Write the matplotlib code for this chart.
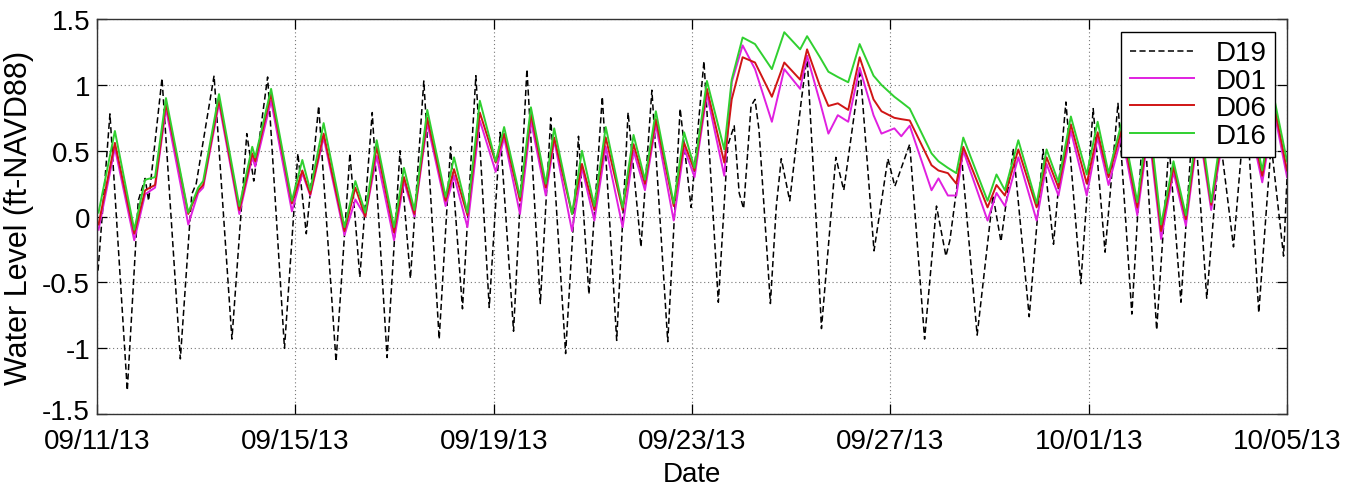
import matplotlib
matplotlib.use("Agg")
import matplotlib.pyplot as plt
from matplotlib.ticker import FixedLocator
from matplotlib.transforms import ScaledTranslation

plt.rcParams['font.family'] = ['Liberation Sans', 'DejaVu Sans']

# Time axis: days after 09/11/13 00:00
tick_days = [0, 4, 8, 12, 16, 20, 24]
tick_labels = ['09/11/13', '09/15/13', '09/19/13', '09/23/13',
               '09/27/13', '10/01/13', '10/05/13']
y_ticks = [-1.5, -1, -0.5, 0, 0.5, 1, 1.5]
y_tick_labels = ['-1.5', '-1', '-0.5', '0', '0.5', '1', '1.5']

# D19 water level (ft-NAVD88), turning points of the tide record
d19_days = [0.02, 0.26, 0.61, 0.83, 0.97, 1.04, 1.31, 1.68, 1.91, 2.00, 2.36,
            2.72, 3.02, 3.16, 3.44, 3.78, 4.05, 4.22, 4.47, 4.82, 5.10, 5.30,
            5.55, 5.85, 6.11, 6.32, 6.59, 6.90, 7.13, 7.37, 7.64, 7.91, 8.13,
            8.40, 8.67, 8.94, 9.15, 9.45, 9.71, 9.92, 10.19, 10.48, 10.71,
            10.97, 11.19, 11.51, 11.76, 11.98, 12.24, 12.53, 12.72, 12.85,
            12.95, 13.04, 13.19, 13.27, 13.35, 13.58, 13.70, 13.80, 13.97,
            14.20, 14.32, 14.51, 14.61, 14.90, 15.06, 15.35, 15.39, 15.67,
            15.95, 16.09, 16.39, 16.69, 16.93, 17.12, 17.20, 17.43, 17.75,
            18.07, 18.23, 18.48, 18.80, 19.08, 19.29, 19.54, 19.84, 20.09,
            20.33, 20.59, 20.87, 21.11, 21.37, 21.62, 21.86, 22.12, 22.38,
            22.65, 22.92, 23.17, 23.43, 23.68, 23.93, 24.00]
d19_level = [-0.41, 0.78, -1.32, 0.12, 0.29, 0.12, 1.05, -1.08, 0.17, 0.25, 1.07,
             -0.93, 0.63, 0.27, 1.06, -1.00, 0.48, -0.13, 0.84, -1.10, 0.48, -0.46,
             0.79, -1.07, 0.50, -0.47, 1.03, -0.93, 0.53, -0.70, 1.07, -0.69, 0.64,
             -0.87, 1.12, -0.66, 0.75, -1.04, 0.61, -0.59, 0.91, -0.94, 0.79,
             -0.23, 0.96, -0.95, 0.82, 0.07, 1.18, -0.65, 0.54, 0.69,
             0.18, 0.06, 0.84, 0.89, 0.66, -0.66, 0.08, 0.44, 0.12,
             0.87, 1.22, -0.08, -0.85, 0.45, 0.20, 0.99, 1.12, -0.26,
             0.44, 0.23, 0.55, -0.93, 0.08, -0.30, -0.18, 0.48, -0.90,
             0.16, -0.19, 0.51, -0.76, 0.51, -0.21, 0.87, -0.51, 0.82,
             -0.27, 0.86, -0.74, 0.80, -0.86, 0.55, -0.65, 0.85, -0.62,
             0.60, -0.23, 0.90, -0.73, 0.55, -0.30, 0.30]

# Interior stations D01, D06, D16
st_days = [0.03, 0.36, 0.75, 0.97, 1.17, 1.39, 1.84, 2.04, 2.14, 2.46, 2.87,
           3.13, 3.19, 3.51, 3.93, 4.14, 4.30, 4.57, 4.99, 5.21, 5.41, 5.64,
           5.99, 6.19, 6.40, 6.66, 7.03, 7.20, 7.47, 7.72, 8.04, 8.21, 8.53,
           8.75, 9.05, 9.22, 9.58, 9.78, 10.03, 10.26, 10.60, 10.82, 11.05,
           11.27, 11.63, 11.84, 12.05, 12.30, 12.65, 12.80, 13.02, 13.27,
           13.61, 13.86, 14.18, 14.32, 14.58, 14.75, 14.94, 15.15, 15.38,
           15.66, 15.82, 16.08, 16.22, 16.39, 16.83, 16.97, 17.16, 17.33,
           17.47, 17.96, 18.14, 18.31, 18.58, 18.95, 19.15, 19.39, 19.64,
           19.96, 20.18, 20.40, 20.67, 20.98, 21.21, 21.46, 21.71, 21.96,
           22.22, 22.47, 22.73, 22.99, 23.25, 23.50, 23.74, 24.00]
d01_level = [-0.10, 0.52, -0.18, 0.17, 0.22, 0.82, -0.06, 0.18, 0.22, 0.86, 0.02,
             0.45, 0.38, 0.88, 0.04, 0.33, 0.16, 0.60, -0.14, 0.13, 0.00, 0.46,
             -0.18, 0.27, 0.00, 0.71, 0.08, 0.31, -0.08, 0.73, 0.34, 0.60, 0.02,
             0.73, 0.16, 0.58, -0.11, 0.37, -0.03, 0.53, -0.08, 0.50, 0.20,
             0.70, -0.03, 0.52, 0.30, 0.93, 0.31, 1.02, 1.30, 1.12,
             0.72, 1.12, 0.97, 1.22, 0.87, 0.63, 0.77, 0.72, 1.13,
             0.77, 0.63, 0.67, 0.61, 0.69, 0.20, 0.29, 0.16, 0.16,
             0.50, -0.03, 0.18, 0.08, 0.45, -0.03, 0.40, 0.16, 0.65,
             0.16, 0.60, 0.24, 0.62, 0.01, 0.65, -0.17, 0.34, -0.07,
             0.68, 0.05, 0.65, 0.46, 0.70, 0.26, 0.80, 0.30]
d06_level = [-0.06, 0.56, -0.13, 0.20, 0.24, 0.86, 0.02, 0.20, 0.24, 0.89, 0.05,
             0.48, 0.42, 0.93, 0.10, 0.35, 0.17, 0.63, -0.11, 0.22, 0.00, 0.53,
             -0.12, 0.30, 0.02, 0.75, 0.12, 0.36, 0.01, 0.79, 0.41, 0.63, 0.12,
             0.78, 0.22, 0.60, 0.02, 0.40, 0.05, 0.60, 0.05, 0.55, 0.25,
             0.74, 0.08, 0.56, 0.35, 0.97, 0.41, 0.89, 1.21, 1.17,
             0.91, 1.17, 1.04, 1.27, 0.99, 0.84, 0.86, 0.81, 1.21,
             0.89, 0.80, 0.75, 0.74, 0.73, 0.39, 0.35, 0.33, 0.25,
             0.53, 0.07, 0.24, 0.16, 0.51, 0.07, 0.45, 0.22, 0.70,
             0.25, 0.64, 0.30, 0.67, 0.07, 0.70, -0.11, 0.38, -0.02,
             0.72, 0.09, 0.70, 0.50, 0.75, 0.31, 0.85, 0.35]
d16_level = [0.03, 0.65, -0.10, 0.28, 0.30, 0.90, 0.03, 0.22, 0.27, 0.93, 0.08,
             0.53, 0.45, 0.97, 0.12, 0.43, 0.20, 0.71, -0.08, 0.27, 0.03, 0.58,
             -0.08, 0.37, 0.05, 0.81, 0.15, 0.45, 0.03, 0.88, 0.42, 0.68, 0.15,
             0.83, 0.25, 0.67, 0.02, 0.50, 0.08, 0.68, 0.07, 0.62, 0.28,
             0.80, 0.10, 0.64, 0.37, 1.03, 0.51, 1.04, 1.36, 1.31,
             1.12, 1.40, 1.27, 1.37, 1.21, 1.10, 1.06, 1.02, 1.31,
             1.07, 1.00, 0.91, 0.87, 0.82, 0.48, 0.42, 0.37, 0.33,
             0.60, 0.12, 0.32, 0.20, 0.58, 0.10, 0.51, 0.26, 0.76,
             0.32, 0.72, 0.33, 0.72, 0.11, 0.78, -0.06, 0.42, 0.01,
             0.80, 0.11, 0.78, 0.55, 0.82, 0.35, 0.90, 0.42]

fig = plt.figure(figsize=(13.46, 4.89), dpi=100)
ax = fig.add_axes([0.0721, 0.151, 0.8841, 0.808])

line_kw = dict(solid_joinstyle='round', dash_joinstyle='round')
ax.plot(d19_days, d19_level, color='black', lw=1.1, dashes=(4, 2.2), label='D19', **line_kw)
ax.plot(st_days, d01_level, color='#E020E0', lw=1.4, label='D01', **line_kw)
ax.plot(st_days, d06_level, color='#D01515', lw=1.4, label='D06', **line_kw)
ax.plot(st_days, d16_level, color='#30D030', lw=1.4, label='D16', **line_kw)

ax.set_xlim(0, 24)
ax.set_ylim(-1.5, 1.5)
ax.xaxis.set_major_locator(FixedLocator(tick_days))
ax.set_xticklabels(tick_labels)
ax.yaxis.set_major_locator(FixedLocator(y_ticks))
ax.set_yticklabels(y_tick_labels)

ax.tick_params(direction='in', length=7, width=0.9, top=True, right=True,
               labelsize=20, colors='black')
ax.tick_params(axis='x', pad=10)
ax.tick_params(axis='y', pad=5)
ax.grid(True, linestyle=(0, (1, 2.5)), color='#777777', linewidth=0.8)
for sp in ax.spines.values():
    sp.set_linewidth(1.0)
    sp.set_color('#333333')

# lift the bottom y tick label a little so it clears the first date label
bottom_label = ax.get_yticklabels()[0]
bottom_label.set_transform(bottom_label.get_transform() +
                           ScaledTranslation(0, 4 / 72, fig.dpi_scale_trans))

ax.set_xlabel('Date', fontsize=20, labelpad=5)
ax.set_ylabel('Water Level (ft-NAVD88)', fontsize=22, labelpad=6)

leg = ax.legend(loc='upper right', bbox_to_anchor=(0.99, 0.967), borderaxespad=0,
                fontsize=20, frameon=True, fancybox=False, framealpha=1,
                edgecolor='black', handlelength=2.3, handletextpad=0.8,
                labelspacing=0.05, borderpad=0.3)
leg.get_frame().set_linewidth(1.0)

fig.savefig('out.png', dpi=100)
